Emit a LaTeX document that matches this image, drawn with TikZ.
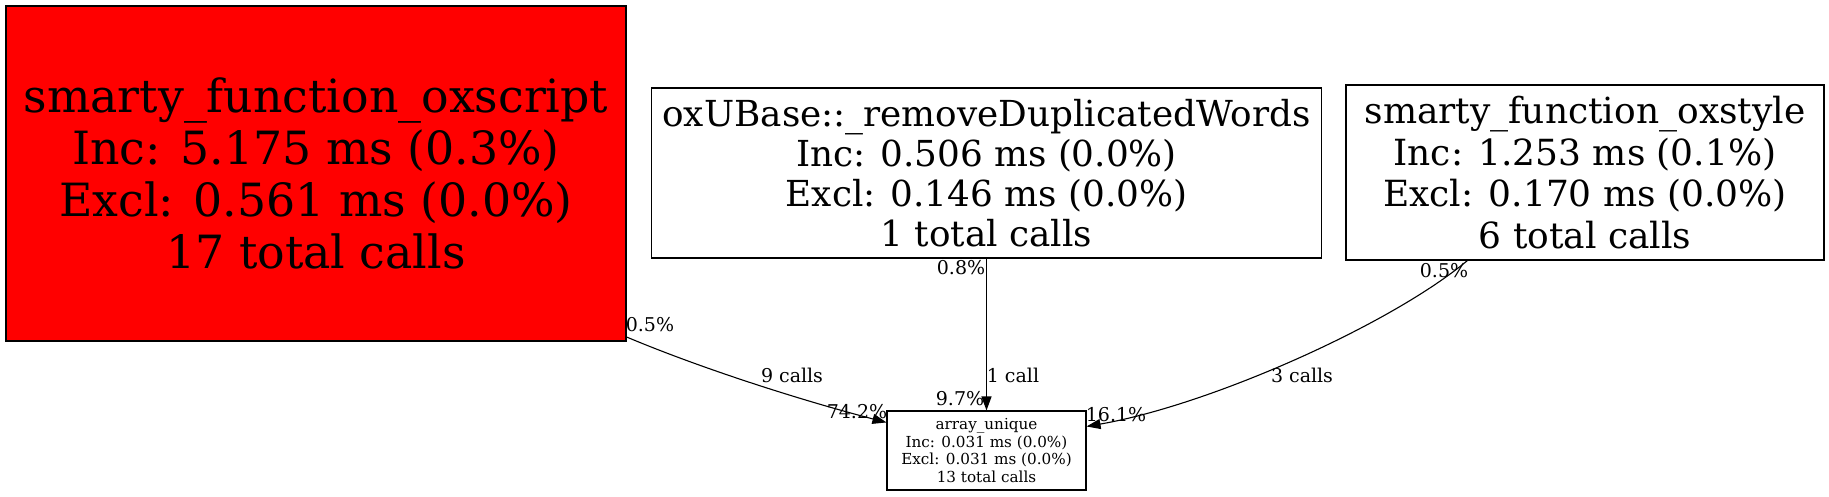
\documentclass[tikz,border=0pt]{standalone}
\usepackage{fontspec}
\setmainfont{DejaVu Serif}
\usetikzlibrary{arrows.meta,calc}
\begin{document}
\begin{tikzpicture}[x=1pt,y=-1pt,
  fn/.style={draw=black, line width=1.1pt, inner sep=0pt, align=center},
  lbl/.style={inner sep=0pt, font=\fontsize{19}{21}\selectfont},
  edge/.style={line width=1.1pt, -{Triangle[length=14pt,width=10pt]}}]
\fill[white] (0,0) rectangle (1829,496);
\useasboundingbox (0,0) rectangle (1829,496);
\node[fn, fill=red, minimum width=620pt, minimum height=335pt, font=\fontsize{45.8}{52}\selectfont] (osc) at (316,173.5)
  {smarty\_function\_oxscript\\Inc: 5.175 ms (0.3\%)\\Excl: 0.561 ms (0.0\%)\\17 total calls};
\node[fn, minimum width=670pt, minimum height=170pt, font=\fontsize{35.8}{40}\selectfont] (rdw) at (986.5,173)
  {oxUBase::\_removeDuplicatedWords\\Inc: 0.506 ms (0.0\%)\\Excl: 0.146 ms (0.0\%)\\1 total calls};
\node[fn, minimum width=478pt, minimum height=175pt, font=\fontsize{36}{41.5}\selectfont] (sty) at (1585,172.5)
  {smarty\_function\_oxstyle\\Inc: 1.253 ms (0.1\%)\\Excl: 0.170 ms (0.0\%)\\6 total calls};
\node[fn, minimum width=199pt, minimum height=79pt, font=\fontsize{15.2}{17.5}\selectfont] (au) at (986.5,450.5)
  {array\_unique\\Inc: 0.031 ms (0.0\%)\\Excl: 0.031 ms (0.0\%)\\13 total calls};
\draw[edge] ($(osc.south east)+(-1,-5)$) .. controls (700,368) and (800,400) .. ($(au.north west)+(0,12)$);
\draw[edge] (rdw.south) -- (au.north);
\draw[edge] ($(sty.south west)+(122,0)$) .. controls (1390,325) and (1210,405) .. ($(au.north east)+(0,16)$);
\node[lbl] (l1a) at (650,325) {0.5\%};
\node[lbl] (l1b) at (792,375) {9 calls};
\node[lbl] (l1c) at (857,412) {74.2\%};
\node[lbl] (l2a) at (961,268) {0.8\%};
\node[lbl] (l2b) at (1013,375) {1 call};
\node[lbl] (l2c) at (960,399) {9.7\%};
\node[lbl] (l3a) at (1444,271) {0.5\%};
\node[lbl] (l3b) at (1302,375) {3 calls};
\node[lbl] (l3c) at (1116,415) {16.1\%};
\end{tikzpicture}
\end{document}
